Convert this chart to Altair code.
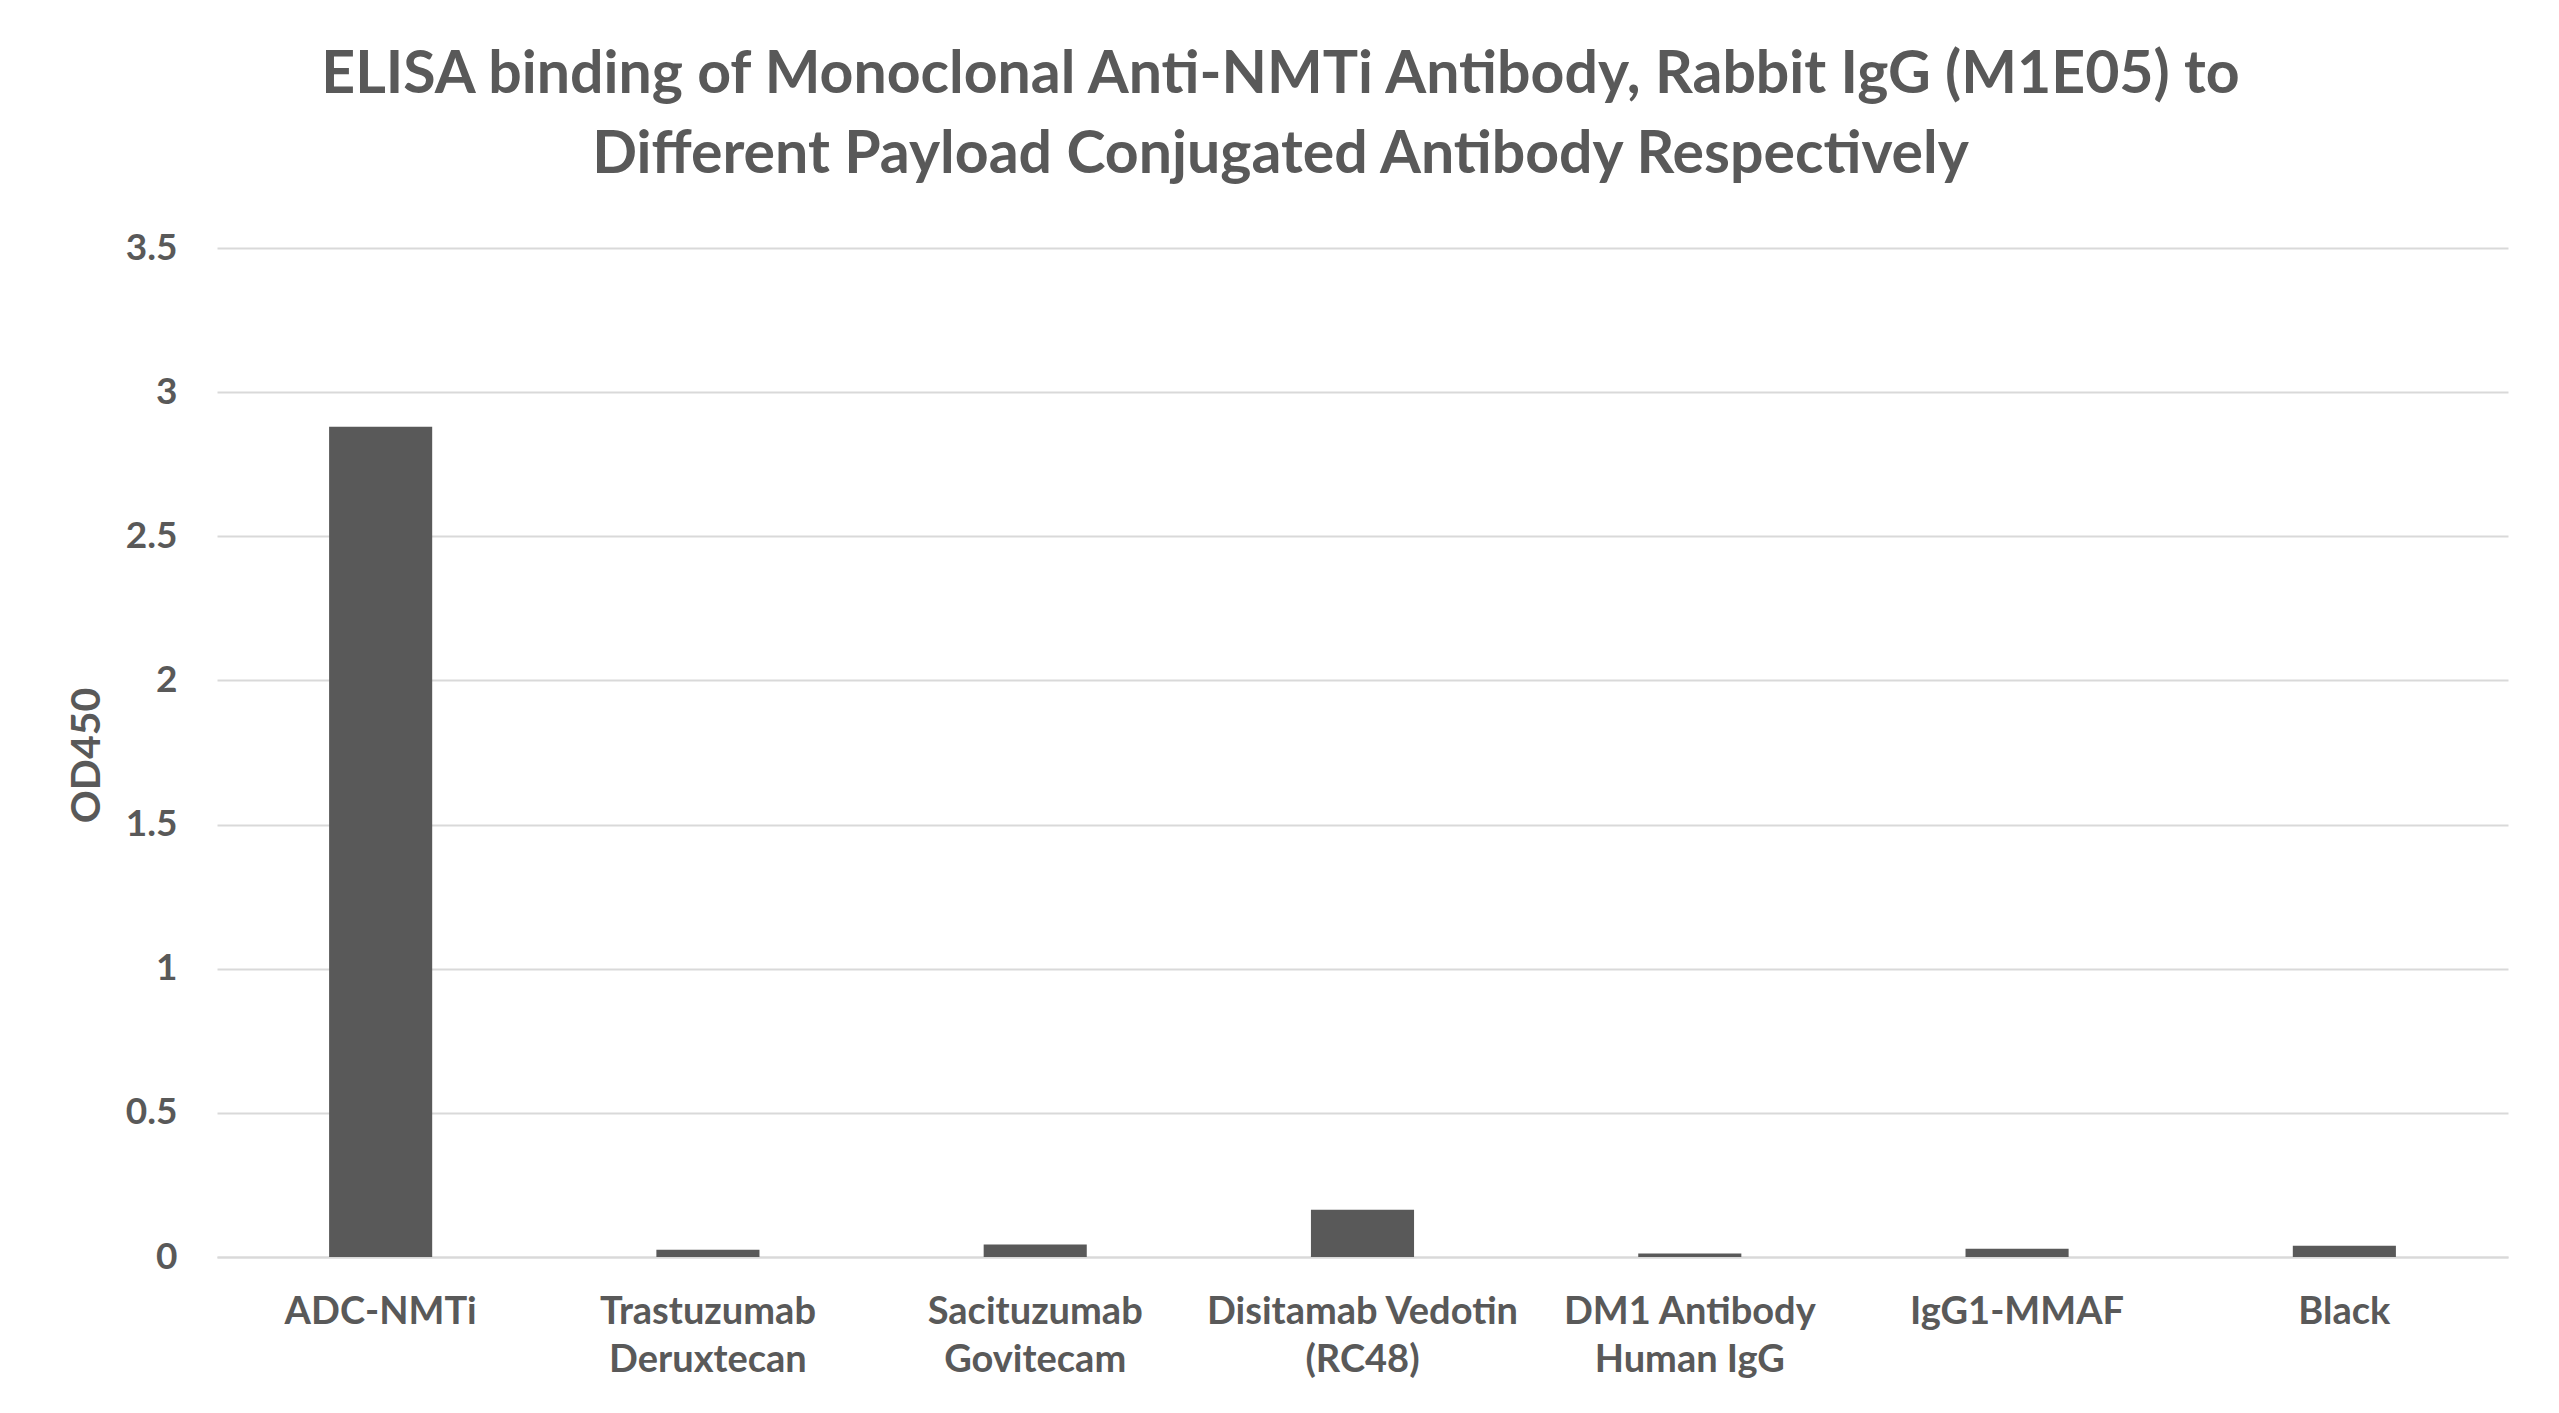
import altair as alt
import pandas as pd

# Samples tested against the anti-NMTi antibody and their OD450 readings
samples = [
    "ADC-NMTi",
    "Trastuzumab|Deruxtecan",
    "Sacituzumab|Govitecam",
    "Disitamab Vedotin|(RC48)",
    "DM1 Antibody|Human IgG",
    "IgG1-MMAF",
    "Black",
]
od450 = [2.88, 0.025, 0.043, 0.164, 0.012, 0.029, 0.039]

title_lines = [
    "ELISA binding of Monoclonal Anti-NMTi Antibody, Rabbit IgG (M1E05) to",
    "Different Payload Conjugated Antibody Respectively",
]
y_ticks = [0, 0.5, 1, 1.5, 2, 2.5, 3, 3.5]

df = pd.DataFrame({"sample": samples, "od450": od450})

GRAY = "#595959"
GRID = "#D9D9D9"
FONT = "Lato"

chart = (
    alt.Chart(df)
    .mark_bar(color=GRAY)
    .encode(
        x=alt.X(
            "sample:N",
            sort=samples,
            scale=alt.Scale(paddingInner=0.685, paddingOuter=0.3425),
            axis=alt.Axis(
                title=None,
                labelAngle=0,
                labelExpr="split(datum.label, '|')",
                labelFont=FONT,
                labelFontSize=38,
                labelFontWeight="bold",
                labelColor=GRAY,
                labelPadding=36,
                labelLineHeight=48,
                labelLimit=0,
                ticks=False,
                domain=True,
                domainColor=GRID,
                domainWidth=2,
            ),
        ),
        y=alt.Y(
            "od450:Q",
            scale=alt.Scale(domain=[0, 3.5], nice=False),
            axis=alt.Axis(
                title="OD450",
                values=y_ticks,
                labelExpr="datum.value",
                labelFont=FONT,
                labelFontSize=37,
                labelFontWeight="bold",
                labelColor=GRAY,
                labelPadding=40,
                ticks=False,
                domain=False,
                grid=True,
                gridColor=GRID,
                gridWidth=2,
                titleFont=FONT,
                titleFontSize=41,
                titleFontWeight="bold",
                titleColor=GRAY,
                titleAngle=270,
                titleAlign="center",
                titleBaseline="middle",
                titleX=-130,
                titleY=507,
            ),
        ),
    )
    .properties(
        width=2291,
        height=1009,
        background="white",
        autosize=alt.AutoSizeParams(type="none"),
        padding={"left": 217, "top": 248, "right": 51, "bottom": 156},
        title=alt.TitleParams(
            text=title_lines,
            font=FONT,
            fontSize=59,
            fontWeight="bold",
            color=GRAY,
            anchor="middle",
            dx=-82,
            lineHeight=80,
            offset=44,
        ),
    )
    .configure_view(stroke=None)
)

chart.save("out.html", embed_options={"renderer": "svg", "actions": False})
